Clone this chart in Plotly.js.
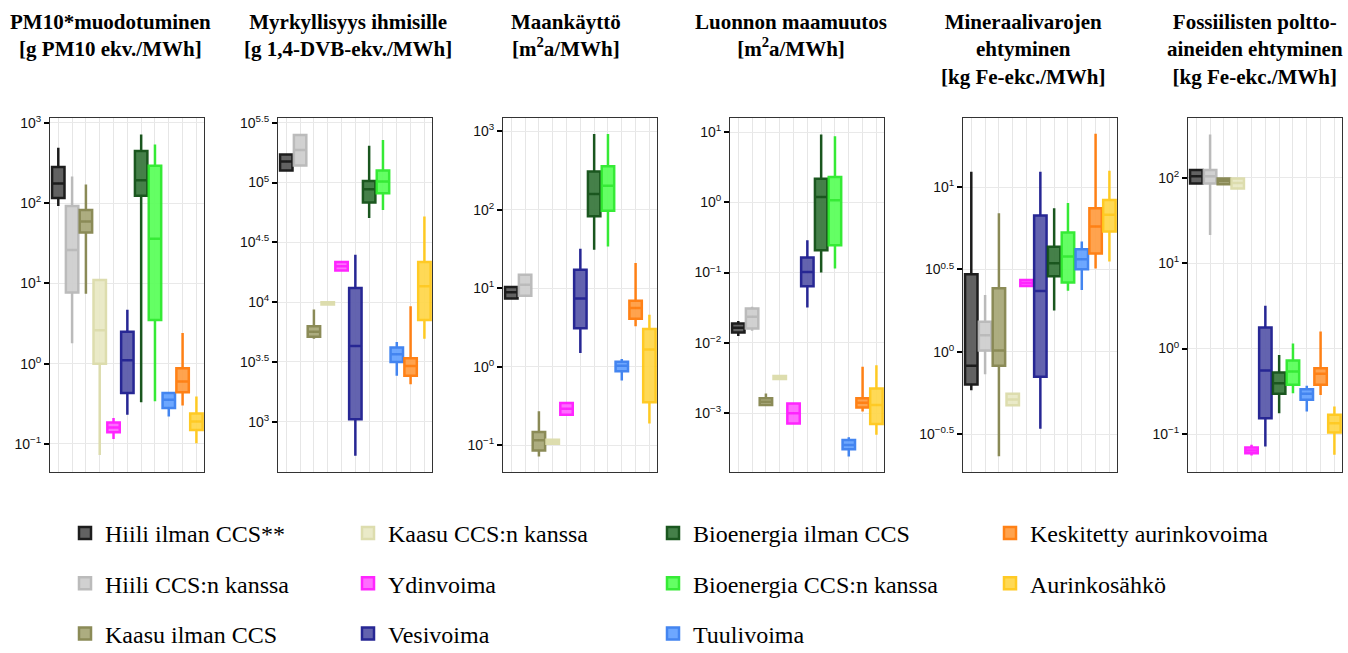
<!DOCTYPE html>
<html>
<head>
<meta charset="utf-8">
<script src="https://cdn.plot.ly/plotly-3.0.1.min.js"></script>
<style>html,body{margin:0;padding:0;background:#fff;}#chart{width:1348px;height:653px;}</style>
</head>
<body>
<div id="chart"></div>
<script>
// ---------- categories & colours ----------
const categories = ["Hiili ilman CCS**", "Hiili CCS:n kanssa", "Kaasu ilman CCS", "Kaasu CCS:n kanssa",
  "Ydinvoima", "Vesivoima", "Bioenergia ilman CCS", "Bioenergia CCS:n kanssa", "Tuulivoima",
  "Keskitetty aurinkovoima", "Aurinkosähkö"];
const lineColors = ["#111111", "#b8b8b8", "#85854f", "#dcdcaa", "#ff1aff", "#1c1c8f", "#0f4f14", "#2cea2c", "#3a7ff0", "#ff7b0a", "#ffc81a"];
const fillColors = ["#5a5a5a", "#cfcfcf", "#a9a97a", "#e9e9c6", "#ff66ff", "#5b5bab", "#3c7a40", "#5cff5c", "#66a3ff", "#ff9f45", "#ffd84d"];

// ---------- panel titles ----------
const panelTitles = [
  "PM10*muodotuminen<br>[g PM10 ekv./MWh]",
  "Myrkyllisyys ihmisille<br>[g 1,4-DVB-ekv./MWh]",
  "Maankäyttö<br>[m<sup>2</sup>a/MWh]",
  "Luonnon maamuutos<br>[m<sup>2</sup>a/MWh]",
  "Mineraalivarojen<br>ehtyminen<br>[kg Fe-ekc./MWh]",
  "Fossiilisten poltto-<br>aineiden ehtyminen<br>[kg Fe-ekc./MWh]"
];

// ---------- tick exponents per panel ----------
const tickExp1 = [-1, 0, 1, 2, 3];
const tickExp2 = [3, 3.5, 4, 4.5, 5, 5.5];
const tickExp3 = [-1, 0, 1, 2, 3];
const tickExp4 = [-3, -2, -1, 0, 1];
const tickExp5 = [-0.5, 0, 0.5, 1];
const tickExp6 = [-1, 0, 1, 2];

// ---------- box statistics (min, q1, median, q3, max) ----------
// Panel 1: PM10
const pm10Min = [92, 1.8, 7.4, 0.073, 0.115, 0.23, 0.33, 0.34, 0.22, 0.30, 0.102];
const pm10Q1  = [116, 7.7, 43, 1.0, 0.14, 0.43, 123, 3.5, 0.28, 0.44, 0.149];
const pm10Med = [176, 26, 59, 2.6, 0.16, 1.1, 193, 36, 0.355, 0.6, 0.19];
const pm10Q3  = [282, 92, 82, 11, 0.185, 2.5, 444, 292, 0.43, 0.875, 0.24];
const pm10Max = [490, 214, 171, 11, 0.21, 4.7, 716, 537, 0.44, 2.4, 0.39];
// Panel 2: human toxicity
const toxMin = [123000, 139000, 4940, 9400, 18400, 521, 50500, 59000, 2420, 2060, 4940];
const toxQ1  = [126000, 139000, 5140, 9550, 18400, 1050, 68000, 81500, 3160, 2420, 7080];
const toxMed = [150000, 187000, 5660, 9800, 20000, 4300, 88000, 102000, 3670, 2930, 13600];
const toxQ3  = [172000, 250000, 6300, 10000, 21700, 13150, 103000, 126000, 4170, 3390, 21700];
const toxMax = [176000, 250000, 8690, 10200, 21700, 24900, 203000, 227000, 4640, 9260, 52000];
// Panel 3: land use
const landMin = [7.3, 7.8, 0.072, 0.103, 0.24, 1.5, 31, 34, 0.67, 3.28, 0.19];
const landQ1  = [7.4, 8.05, 0.086, 0.105, 0.246, 3.1, 83, 97.5, 0.877, 4.1, 0.353];
const landMed = [8.9, 11.1, 0.116, 0.112, 0.293, 7.4, 159, 203, 1.03, 5.6, 1.66];
const landQ3  = [10.4, 14.9, 0.148, 0.118, 0.346, 17.3, 309, 358, 1.16, 6.97, 3.03];
const landMax = [10.6, 15.3, 0.271, 0.12, 0.36, 32, 925, 925, 1.26, 21, 4.6];
// Panel 4: natural land transformation
const natMin = [0.01245, 0.0148, 0.0013, 0.00304, 0.0007, 0.0318, 0.1, 0.114, 0.00024, 0.00105, 0.00049];
const natQ1  = [0.014, 0.016, 0.0013, 0.00304, 0.00071, 0.064, 0.208, 0.245, 0.000304, 0.0012, 0.0007];
const natMed = [0.0163, 0.0234, 0.00145, 0.0032, 0.00099, 0.102, 1.19, 1.07, 0.00035, 0.0014, 0.0013];
const natQ3  = [0.0188, 0.0308, 0.00162, 0.00336, 0.00137, 0.163, 2.17, 2.29, 0.000413, 0.00162, 0.00224];
const natMax = [0.0204, 0.0325, 0.0019, 0.00336, 0.0014, 0.288, 9.2, 8.7, 0.00045, 0.00456, 0.0048];
// Panel 5: mineral resource depletion
const minMin = [0.585, 0.731, 0.232, 0.473, 2.51, 0.341, 1.78, 2.35, 2.37, 3.21, 3.53];
const minQ1  = [0.633, 1.02, 0.822, 0.473, 2.51, 0.705, 2.88, 2.64, 3.17, 3.96, 5.37];
const minMed = [0.822, 1.26, 1.02, 0.513, 2.62, 2.34, 3.45, 3.79, 3.65, 5.77, 6.8];
const minQ3  = [2.96, 1.52, 2.43, 0.557, 2.73, 6.73, 4.35, 5.3, 4.2, 7.45, 8.37];
const minMax = [12.4, 2.21, 6.95, 0.557, 2.73, 12.4, 7.45, 8.0, 4.67, 21.1, 12.6];
// Panel 6: fossil fuel depletion
const fosMin = [84, 21.4, 81, 75, 0.056, 0.0714, 0.175, 0.30, 0.183, 0.287, 0.057];
const fosQ1  = [86, 86, 84, 75, 0.0597, 0.153, 0.295, 0.376, 0.251, 0.376, 0.104];
const fosMed = [104, 104, 92, 87, 0.064, 0.553, 0.393, 0.538, 0.295, 0.506, 0.134];
const fosQ3  = [123, 123, 98, 98, 0.0695, 1.76, 0.524, 0.724, 0.334, 0.589, 0.168];
const fosMax = [128, 321, 101, 98, 0.075, 3.18, 0.843, 1.15, 0.366, 1.58, 0.21];

const panels = [
  {min: pm10Min, q1: pm10Q1, med: pm10Med, q3: pm10Q3, max: pm10Max, ticks: tickExp1, range: [-1.35, 3.06]},
  {min: toxMin, q1: toxQ1, med: toxMed, q3: toxQ3, max: toxMax, ticks: tickExp2, range: [2.58, 5.54]},
  {min: landMin, q1: landQ1, med: landMed, q3: landQ3, max: landMax, ticks: tickExp3, range: [-1.34, 3.17]},
  {min: natMin, q1: natQ1, med: natMed, q3: natQ3, max: natMax, ticks: tickExp4, range: [-3.84, 1.2]},
  {min: minMin, q1: minQ1, med: minMed, q3: minQ3, max: minMax, ticks: tickExp5, range: [-0.73, 1.42]},
  {min: fosMin, q1: fosQ1, med: fosMed, q3: fosQ3, max: fosMax, ticks: tickExp6, range: [-1.445, 2.70]}
];

// ---------- layout geometry (pixels) ----------
const W = 1348, H = 653;
const panelLeftPx = [50, 278, 503, 730, 963, 1188];
const panelWidthPx = 154;
const titleCenterPx = [110, 348, 566, 791, 1023, 1255];
const plotTopPx = 118, plotBottomPx = 472;
const legendTextStartPx = [105, 388, 693, 1030];
const legendColumns = [[0, 1, 2], [3, 4, 5], [6, 7, 8], [9, 10]];

function expLabel(e) {
  const s = String(e).replace('-', '\u2212');
  return '10<sup>' + s + '</sup>';
}

const traces = [];
const layout = {
  width: W, height: H,
  margin: {l: 0, r: 0, t: 0, b: 0, autoexpand: false},
  paper_bgcolor: '#ffffff',
  plot_bgcolor: '#ffffff',
  showlegend: true,
  boxmode: 'overlay',
  annotations: [],
  font: {family: 'Liberation Sans, Arial, sans-serif', color: '#000'}
};

panels.forEach((p, pi) => {
  const xa = pi === 0 ? 'x' : 'x' + (pi + 1);
  const ya = pi === 0 ? 'y' : 'y' + (pi + 1);
  categories.forEach((cat, ci) => {
    const col = legendColumns.findIndex(c => c.includes(ci));
    traces.push({
      type: 'box',
      name: cat,
      legendgroup: 'g' + ci,
      legend: col === 0 ? 'legend' : 'legend' + (col + 1),
      showlegend: pi === 0,
      xaxis: xa, yaxis: ya,
      x: [ci],
      q1: [p.q1[ci]], median: [p.med[ci]], q3: [p.q3[ci]],
      lowerfence: [p.min[ci]], upperfence: [p.max[ci]],
      width: 0.9,
      whiskerwidth: 0,
      boxpoints: false,
      line: {color: lineColors[ci], width: 2.5},
      fillcolor: fillColors[ci],
      opacity: 0.95,
      hoverinfo: 'skip'
    });
  });
  const x0 = panelLeftPx[pi] / W, x1 = (panelLeftPx[pi] + panelWidthPx) / W;
  layout[pi === 0 ? 'xaxis' : 'xaxis' + (pi + 1)] = {
    domain: [x0, x1], anchor: ya,
    range: [-0.6, 10.55],
    tickmode: 'array', tickvals: categories.map((c, i) => i), showticklabels: false, ticks: '',
    showgrid: true, gridcolor: '#e6e6e6', gridwidth: 1, zeroline: false,
    showline: true, mirror: true, linecolor: '#333333', linewidth: 1
  };
  layout[pi === 0 ? 'yaxis' : 'yaxis' + (pi + 1)] = {
    domain: [1 - plotBottomPx / H, 1 - plotTopPx / H], anchor: xa,
    type: 'log', range: p.range,
    tickmode: 'array', tickvals: p.ticks.map(e => Math.pow(10, e)), ticktext: p.ticks.map(expLabel),
    ticks: 'outside', ticklen: 5, tickwidth: 2, tickcolor: '#000',
    tickfont: {family: 'Liberation Sans, Arial, sans-serif', size: 14, color: '#111'},
    showgrid: true, gridcolor: '#e9e9e9', gridwidth: 1, zeroline: false,
    showline: true, mirror: true, linecolor: '#333333', linewidth: 1
  };
  layout.annotations.push({
    xref: 'paper', yref: 'paper',
    x: titleCenterPx[pi] / W, y: 1 - 8 / H,
    xanchor: 'center', yanchor: 'top', align: 'center', showarrow: false,
    text: '<b>' + panelTitles[pi] + '</b>',
    font: {family: 'Liberation Serif, Times New Roman, serif', size: 21, color: '#000'}
  });
});

legendColumns.forEach((c, li) => {
  layout[li === 0 ? 'legend' : 'legend' + (li + 1)] = {
    x: (legendTextStartPx[li] - 40) / W, xanchor: 'left',
    y: 1 - 511 / H, yanchor: 'top',
    orientation: 'v',
    bgcolor: 'rgba(0,0,0,0)', borderwidth: 0,
    font: {family: 'Liberation Serif, Times New Roman, serif', size: 24, color: '#000'},
    tracegroupgap: 16,
    itemwidth: 30,
    itemclick: false, itemdoubleclick: false
  };
});

Plotly.newPlot('chart', traces, layout, {displayModeBar: false, staticPlot: true});
</script>
</body>
</html>
